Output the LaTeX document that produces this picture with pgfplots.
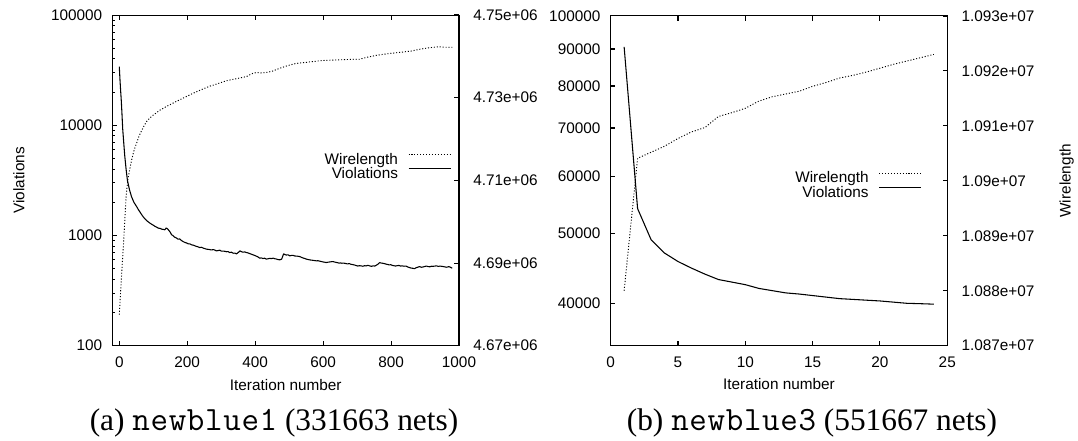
\documentclass[border=0pt]{standalone}
\usepackage{fontspec}
\setmainfont{Liberation Sans}
\newfontfamily\capserif{Liberation Serif}
\newfontfamily\capmono{Latin Modern Mono}[LetterSpace=2]
\usepackage{pgfplots}
\pgfplotsset{compat=1.18}

\newcommand{\gpfont}{\fontsize{11.5}{13}\selectfont}
\pgfplotsset{
  gp/.style={
    scale only axis,
    axis line style={line width=0.8pt,black},
    every tick/.style={line width=0.8pt,black},
    major tick length=3.5pt, minor tick length=1.8pt,
    tick label style={font=\gpfont},
    /pgf/number format/assume math mode=true,
    /pgf/number format/1000 sep={},
    scaled y ticks=false,
    xticklabel style={anchor=base,yshift=-16.7pt},
    every axis x label/.style={at={(axis description cs:0.5,-0.134)},anchor=base,font=\gpfont},
  },
  leftax/.style={gp, ytick pos=left,
    yticklabel style={anchor=east,inner sep=0pt,xshift=-7.5pt}},
  rightax/.style={gp, axis x line=none, axis y line*=right, ytick pos=right,
    yticklabel style={anchor=west,inner sep=0pt,xshift=10.5pt},
    legend cell align=right, legend plot pos=right,
    legend image code/.code={\draw[##1] (0pt,4pt) -- (31.5pt,4pt);},
    legend style={draw=none,fill=none,inner sep=0pt,outer sep=0pt,
      row sep=1pt,column sep=7.5pt,font=\gpfont,
      nodes={inner sep=0pt}}},
  wl/.style={black,line width=0.7pt,dash pattern=on 0.8pt off 1.4pt},
  vi/.style={black,line width=0.8pt,line join=round},
}

\begin{document}
\begin{tikzpicture}
\path[use as bounding box] (0,0) rectangle (808.5pt,330pt);

% ---- (a) newblue1 ----
\begin{axis}[leftax, at={(84.375pt,70.725pt)}, anchor=south west,
  width=259.875pt, height=248pt,
  xmin=-20, xmax=1000, xtick={0,200,...,1000},
  ymode=log, ymin=100, ymax=100000,
  ytick={100,1000,10000,100000}, yticklabels={100,1000,10000,100000},
  xlabel={Iteration number}, ylabel={Violations},
  every axis y label/.style={at={(axis description cs:-0.27,0.5)},rotate=90,anchor=center,font=\gpfont}]
\addplot[vi] coordinates {
(0,34000) (2,26000) (4,20500) (6,16500) (8,12500) (10,9300) (13,7000) (16,5300)
(20,4000) (24,3150) (30,2600) (36,2250) (43,2000) (51,1830) (56,1720) (61,1630)
(68,1510) (75,1420) (80,1370) (85,1330) (90,1295) (95,1265) (100,1240) (105,1210)
(110,1190) (115,1165) (120,1160) (125,1140) (130,1135) (134,1125) (138,1170) (142,1150)
(147,1100) (150,1070) (154,1015) (158,1000) (163,965) (168,950) (173,925) (178,930)
(183,900) (188,880) (193,865) (198,855) (203,840) (208,838) (213,822) (219,815)
(225,800) (231,790) (237,777) (242,782) (247,768) (252,760) (257,751) (263,748)
(270,740) (278,744) (286,725) (291,730) (296,735) (301,720) (306,722) (311,718)
(316,712) (320,715) (325,700) (330,706) (335,690) (340,692) (345,681) (350,700)
(355,725) (360,712) (364,705) (369,710) (374,700) (379,695) (384,685) (389,676)
(394,667) (398,660) (403,650) (408,640) (413,623) (418,626) (423,618) (428,622)
(433,610) (438,615) (443,620) (448,617) (453,623) (458,615) (462,612) (467,605)
(472,601) (478,610) (482,660) (484,681) (488,670) (492,665) (497,668) (502,653)
(507,660) (512,660) (516,652) (521,650) (526,648) (531,644) (536,634) (541,625)
(546,618) (551,610) (556,605) (561,600) (566,598) (570,595) (575,592) (580,589)
(585,590) (590,585) (595,580) (600,575) (605,572) (609,568) (614,572) (619,575)
(624,578) (629,580) (634,574) (638,570) (643,566) (647,561) (651,564) (655,560)
(660,562) (665,558) (672,552) (677,556) (682,548) (687,544) (692,540) (697,534)
(702,528) (707,532) (712,530) (717,526) (722,532) (727,530) (732,536) (737,530)
(742,525) (747,530) (752,528) (756,536) (760,545) (764,560) (767,567) (771,562)
(775,560) (780,556) (785,550) (790,546) (795,540) (799,544) (803,536) (808,532)
(813,528) (818,532) (823,535) (828,528) (833,530) (838,526) (844,528) (849,518)
(854,512) (859,506) (864,504) (869,500) (874,510) (879,516) (884,522) (889,515)
(894,518) (899,523) (904,528) (909,522) (914,520) (919,526) (924,525) (929,528)
(934,530) (939,524) (944,528) (949,525) (954,522) (959,518) (964,515) (968,520)
(972,520) (976,512) (980,505)
};
\end{axis}
\begin{axis}[rightax, at={(84.375pt,70.725pt)}, anchor=south west,
  width=259.875pt, height=248pt,
  xmin=-20, xmax=1000,
  ymin=4670000, ymax=4750000,
  ytick={4670000,4690000,4710000,4730000,4750000},
  yticklabels={4.67e+06,4.69e+06,4.71e+06,4.73e+06,4.75e+06},
  legend style={at={(0.977,0.583)},anchor=north east}]
\addplot[wl] coordinates {
(0,4677500) (3,4681800) (6,4686000) (9,4690200) (12,4694000) (16,4700000)
(20,4706100) (25,4710000) (31,4712800) (36,4714800) (41,4716500) (46,4717900)
(51,4719000) (58,4720700) (66,4722100) (73,4723200) (80,4724200) (90,4725100)
(100,4725800) (110,4726400) (120,4727000) (135,4727700) (149,4728300) (163,4728900)
(178,4729500) (198,4730300) (218,4731100) (243,4732000) (267,4732800) (290,4733400)
(315,4734100) (345,4734600) (374,4735100) (390,4735800) (404,4736100) (420,4736000)
(433,4736100) (450,4736400) (472,4737100) (497,4737800) (521,4738300) (545,4738500)
(575,4738800) (600,4739000) (629,4739100) (660,4739200) (690,4739300) (707,4739300)
(730,4739800) (760,4740300) (796,4740700) (830,4741000) (860,4741300) (890,4741800)
(913,4742100) (940,4742300) (960,4742200) (982,4742200)
};
\addlegendentry{Wirelength}
\addlegendimage{vi}
\addlegendentry{Violations}
\end{axis}

% ---- (b) newblue3 ----
\begin{axis}[leftax, at={(458pt,70.725pt)}, anchor=south west,
  width=252.45pt, height=247.3pt,
  xmin=0, xmax=25, xtick={0,5,...,25},
  ymode=log, ymin=35000, ymax=100000,
  ytick={40000,50000,60000,70000,80000,90000,100000},
  yticklabels={40000,50000,60000,70000,80000,90000,100000},
  minor ytick={}, xlabel={Iteration number}]
\addplot[vi] coordinates {
(1,90600) (2,54150) (3,49050) (4,47000) (5,45750) (6,44800) (7,43950) (8,43200)
(9,42850) (10,42500) (11,42000) (12,41700) (13,41400) (14,41250) (15,41050)
(16,40850) (17,40650) (18,40550) (19,40450) (20,40350) (21,40200) (22,40050)
(23,40000) (24,39950)
};
\end{axis}
\begin{axis}[rightax, at={(458pt,70.725pt)}, anchor=south west,
  width=252.45pt, height=247.3pt,
  xmin=0, xmax=25,
  ymin=10870000, ymax=10930000,
  ytick={10870000,10880000,10890000,10900000,10910000,10920000,10930000},
  yticklabels={1.087e+07,1.088e+07,1.089e+07,1.09e+07,1.091e+07,1.092e+07,1.093e+07},
  ylabel={Wirelength},
  every axis y label/.style={at={(axis description cs:1.355,0.5)},rotate=90,anchor=center,font=\gpfont},
  legend style={at={(0.924,0.5275)},anchor=north east}]
\addplot[wl] coordinates {
(1,10880000) (2,10904100) (3,10905200) (4,10906300) (5,10907700) (6,10908900)
(7,10909700) (8,10911700) (9,10912400) (10,10913200) (11,10914500) (12,10915300)
(13,10915800) (14,10916300) (15,10917200) (16,10917900) (17,10918700) (18,10919200)
(19,10919800) (20,10920500) (21,10921200) (22,10921800) (23,10922400) (24,10923000)
};
\addlegendentry{Wirelength}
\addlegendimage{vi}
\addlegendentry{Violations}
\end{axis}

% ---- captions ----
\node[anchor=base,font=\capserif\fontsize{23.5}{28}\selectfont] at (205.5pt,7.5pt)
  {(a) {\capmono\fontsize{25.5}{28}\selectfont newblue1} (331663 nets)};
\node[anchor=base,font=\capserif\fontsize{23.5}{28}\selectfont] at (609pt,7.5pt)
  {(b) {\capmono\fontsize{25.5}{28}\selectfont newblue3} (551667 nets)};
\end{tikzpicture}
\end{document}
